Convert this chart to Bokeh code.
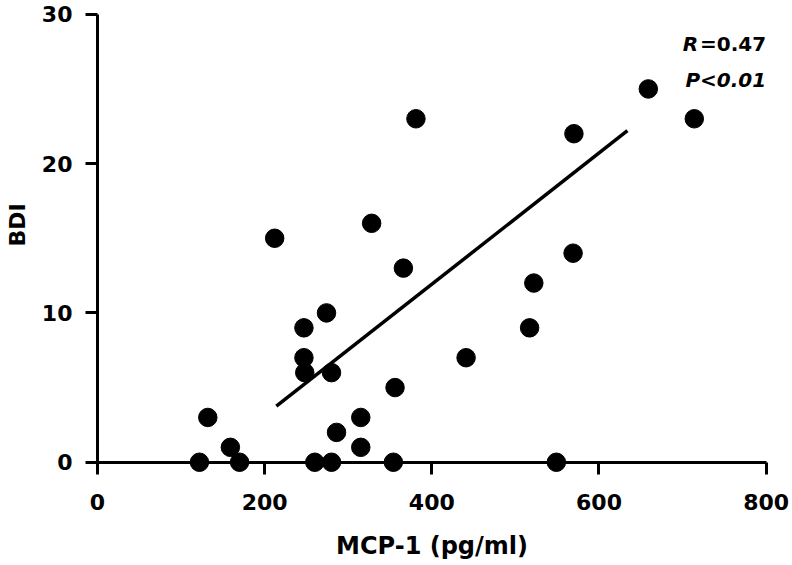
import math
from bokeh.plotting import figure
from bokeh.models import Range1d, FixedTicker, Label
from bokeh.embed import file_html
from bokeh.resources import INLINE

# Data
mcp1 = [122, 132, 159, 170, 212, 247, 247, 248, 260, 274, 280, 280, 286, 315,
        315, 328, 354, 356, 366, 381, 441, 517, 522, 549, 569, 570, 659, 714]
bdi = [0, 3, 1, 0, 15, 9, 7, 6, 0, 10, 6, 0, 2, 3,
       1, 16, 0, 5, 13, 23, 7, 9, 12, 0, 14, 22, 25, 23]
fit_x = [214, 634]
fit_y = [3.75, 22.2]
x_ticks = [0, 200, 400, 600, 800]
y_ticks = [0, 10, 20, 30]
x_label = "MCP-1 (pg/ml)"
y_label = "BDI"
r_symbol = "R"
r_value = "=0.47"
p_text = "P<0.01"

FONT = "DejaVu Sans"

p = figure(width=790, height=563,
           x_range=Range1d(-116.0, 829.1), y_range=Range1d(-6.78, 30.92),
           output_backend="svg", toolbar_location=None,
           min_border_left=0, min_border_right=0,
           min_border_top=0, min_border_bottom=0)
p.outline_line_color = None
p.xgrid.visible = False
p.ygrid.visible = False
p.background_fill_color = "white"
p.border_fill_color = "white"

for ax, ticks, bounds in ((p.xaxis[0], x_ticks, (0, 800)),
                          (p.yaxis[0], y_ticks, (0, 30))):
    ax.fixed_location = 0
    ax.bounds = bounds
    ax.ticker = FixedTicker(ticks=ticks)
    ax.axis_line_width = 3
    ax.axis_line_color = "black"
    ax.major_tick_line_width = 3
    ax.major_tick_line_color = "black"
    ax.major_tick_out = 12
    ax.major_tick_in = 0
    ax.minor_tick_out = 0
    ax.minor_tick_in = 0
    ax.major_label_text_font = FONT
    ax.major_label_text_font_style = "bold"
    ax.major_label_text_font_size = "22px"
    ax.major_label_text_color = "black"
    ax.axis_label_text_font = FONT
    ax.axis_label_text_font_style = "bold"
    ax.axis_label_text_color = "black"

p.xaxis[0].axis_label = x_label
p.xaxis[0].major_label_standoff = 20
p.xaxis[0].axis_label_standoff = 18
p.xaxis[0].axis_label_text_font_size = "24px"
p.yaxis[0].major_label_standoff = 13

p.add_layout(Label(x=0, x_offset=-80, y=15.9, text=y_label, angle=math.pi / 2,
                   text_align="center", text_baseline="alphabetic",
                   text_font=FONT, text_font_style="bold",
                   text_font_size="22px", text_color="black"))

p.line(fit_x, fit_y, line_width=3.5, line_color="black")
p.scatter(mcp1, bdi, size=18.5, fill_color="black", line_color="black")

p.add_layout(Label(x=800, y=28.0, text=r_value, text_align="right",
                   text_baseline="alphabetic", text_font=FONT,
                   text_font_style="bold", text_font_size="20px",
                   text_color="black"))
p.add_layout(Label(x=800, y=28.0, x_offset=-68, text=r_symbol, text_align="right",
                   text_baseline="alphabetic", text_font=FONT,
                   text_font_style="bold italic", text_font_size="20px",
                   text_color="black"))
p.add_layout(Label(x=800, y=25.6, text=p_text, text_align="right",
                   text_baseline="alphabetic", text_font=FONT,
                   text_font_style="bold italic", text_font_size="20px",
                   text_color="black"))

open("out.html", "w").write(file_html(p, INLINE))
